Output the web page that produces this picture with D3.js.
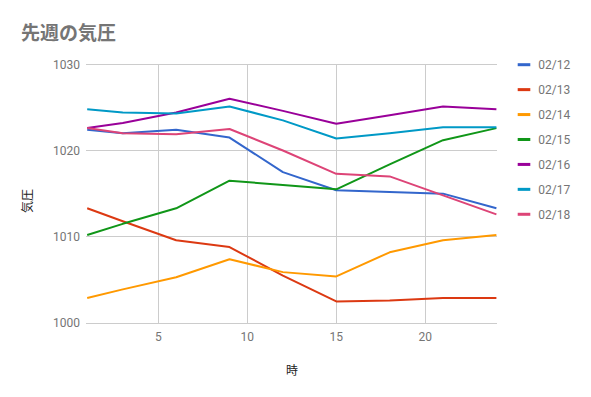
<!DOCTYPE html>
<html><head><meta charset="utf-8">
<script src="https://cdn.jsdelivr.net/npm/d3@7"></script>
<style>body{margin:0;background:#fff}svg{display:block;font-family:Roboto,"Noto Sans CJK JP",sans-serif}</style>
</head><body><svg id="c" width="591" height="397"></svg>
<script>
const hours = [1, 3, 6, 9, 12, 15, 18, 21, 24];
const seriesNames = ["02/12","02/13","02/14","02/15","02/16","02/17","02/18"];
const v0212 = [1022.4, 1022.0, 1022.4, 1021.5, 1017.5, 1015.4, 1015.2, 1015.0, 1013.3];
const v0213 = [1013.3, 1011.8, 1009.6, 1008.8, 1005.5, 1002.5, 1002.6, 1002.9, 1002.9];
const v0214 = [1002.9, 1003.9, 1005.3, 1007.4, 1005.9, 1005.4, 1008.2, 1009.6, 1010.2];
const v0215 = [1010.2, 1011.5, 1013.3, 1016.5, 1016.0, 1015.5, 1018.4, 1021.2, 1022.6];
const v0216 = [1022.6, 1023.2, 1024.4, 1026.0, 1024.6, 1023.1, 1024.1, 1025.1, 1024.8];
const v0217 = [1024.8, 1024.4, 1024.3, 1025.1, 1023.5, 1021.4, 1022.0, 1022.7, 1022.7];
const v0218 = [1022.6, 1022.0, 1021.9, 1022.5, 1020.0, 1017.3, 1017.0, 1014.8, 1012.6];
const xTicks = [5, 10, 15, 20];
const yTicks = [1000, 1010, 1020, 1030];
const colors = ["#3366CC","#DC3912","#FF9900","#109618","#990099","#0099C6","#DD4477"];
const values = [v0212, v0213, v0214, v0215, v0216, v0217, v0218];

const svg = d3.select("#c");
const x = d3.scaleLinear().domain([1, 24]).range([87.2, 496.4]);
const y = d3.scaleLinear().domain([1000, 1030]).range([323, 64.3]);
const grey = "#757575";

// gridlines
svg.append("g").selectAll("line").data(yTicks).join("line")
  .attr("x1", 86).attr("x2", 496.5).attr("y1", d => y(d)).attr("y2", d => y(d))
  .attr("stroke", "#cccccc").attr("stroke-width", 1).attr("shape-rendering","crispEdges");
svg.append("g").selectAll("line").data(xTicks).join("line")
  .attr("x1", d => x(d)).attr("x2", d => x(d)).attr("y1", 64.3).attr("y2", 323)
  .attr("stroke", "#cccccc").attr("stroke-width", 1).attr("shape-rendering","crispEdges");

// tick labels
svg.append("g").selectAll("text").data(yTicks).join("text")
  .attr("x", 80).attr("y", d => y(d) + 4.3).attr("text-anchor", "end")
  .attr("font-size", 12).attr("fill", grey).text(d => d);
svg.append("g").selectAll("text").data(xTicks).join("text")
  .attr("x", d => x(d)).attr("y", 341).attr("text-anchor", "middle")
  .attr("font-size", 12).attr("fill", grey).text(d => d);

// lines
const line = d3.line().x((d, i) => x(hours[i])).y(d => y(d));
svg.append("g").selectAll("path").data(values).join("path")
  .attr("d", d => line(d)).attr("fill", "none")
  .attr("stroke", (d, i) => colors[i]).attr("stroke-width", 2)
  .attr("stroke-linejoin", "round");

// title
svg.append("text").attr("x", 21).attr("y", 40).attr("font-size", 19)
  .attr("font-weight", "bold").attr("fill", grey).text("先週の気圧");

// axis titles
svg.append("text").attr("x", 292).attr("y", 375).attr("text-anchor", "middle")
  .attr("font-size", 12).attr("fill", "#222").text("時");
svg.append("text").attr("transform", "translate(32,201) rotate(-90)")
  .attr("text-anchor", "middle").attr("font-size", 12).attr("fill", "#222").text("気圧");

// legend
const lg = svg.append("g").selectAll("g").data(seriesNames).join("g")
  .attr("transform", (d, i) => `translate(0,${64.7 + i * 24.93})`);
lg.append("rect").attr("x", 517.7).attr("y", -1.5).attr("width", 12.6).attr("height", 3)
  .attr("fill", (d, i) => colors[i]);
lg.append("text").attr("x", 538.3).attr("y", 4.3).attr("font-size", 12)
  .attr("fill", grey).text(d => d);
</script></body></html>
